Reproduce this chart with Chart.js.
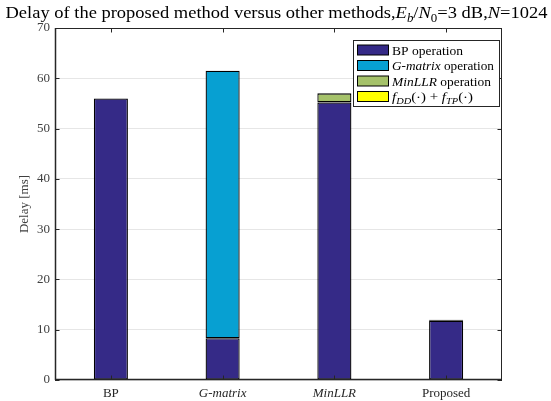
<!DOCTYPE html>
<html>
<head>
<meta charset="utf-8">
<script src="https://cdn.jsdelivr.net/npm/chart.js@4.4.1/dist/chart.umd.min.js"></script>
<style>
  html, body { margin: 0; padding: 0; background: #fff; }
  #wrap { width: 551px; height: 401px; }
</style>
</head>
<body>
<div id="wrap"><canvas id="c" width="551" height="401"></canvas></div>
<script>
// Stacked delay components per method (ms)
const categories = ['BP', 'G-matrix', 'MinLLR', 'Proposed'];
const bpOperation      = [56.0, 8.3, 55.2, 11.8];
const gMatrixOperation = [null, 53.2, null, null];
const minLLROperation  = [null, null, 1.8, null];
const fddTpOperation   = [null, null, null, 0.2];
const yTicks = [0, 10, 20, 30, 40, 50, 60, 70];

const SERIF = '"Liberation Serif", "DejaVu Serif", serif';
const AXIS = '#262626';
const colors = ['#352a87', '#07a0d2', '#a5c26a', '#ffff00'];
const italicCats = { 'G-matrix': true, 'MinLLR': true };

// Draw a run of text segments (normal / italic / subscript) on one baseline,
// optionally stretched horizontally to a given width
function drawRich(ctx, segs, x, y, size, align, fitWidth) {
  const parts = segs.map(s => {
    const fs = s.sub ? size * 0.7 : size;
    const font = (s.it ? 'italic ' : '') + fs + 'px ' + SERIF;
    ctx.font = font;
    return { t: s.t, font, w: ctx.measureText(s.t).width, dy: s.sub ? size * 0.25 : 0 };
  });
  const total = parts.reduce((a, p) => a + p.w, 0);
  const sx = fitWidth ? fitWidth / total : 1;
  const W = total * sx;
  let left = align === 'center' ? x - W / 2 : (align === 'right' ? x - W : x);
  ctx.save();
  ctx.translate(left, y);
  ctx.scale(sx, 1);
  ctx.textAlign = 'left';
  ctx.textBaseline = 'alphabetic';
  let cx = 0;
  parts.forEach(p => {
    ctx.font = p.font;
    ctx.fillText(p.t, cx, p.dy);
    cx += p.w;
  });
  ctx.restore();
  return W;
}

const titleSegs = [
  { t: 'Delay of the proposed method versus other methods,' },
  { t: 'E', it: true }, { t: 'b', it: true, sub: true },
  { t: '/' }, { t: 'N', it: true }, { t: '0', sub: true },
  { t: '=3 dB,' }, { t: 'N', it: true }, { t: '=1024' }
];

const legendRows = [
  [{ t: 'BP operation' }],
  [{ t: 'G-matrix', it: true }, { t: ' operation' }],
  [{ t: 'MinLLR', it: true }, { t: ' operation' }],
  [{ t: 'f', it: true }, { t: 'DD', it: true, sub: true }, { t: '(\u00b7) + ' },
   { t: 'f', it: true }, { t: 'TP', it: true, sub: true }, { t: '(\u00b7)' }]
];

const framePlugin = {
  id: 'frame',
  afterDatasetsDraw(chart) {
    const ctx = chart.ctx;
    const a = chart.chartArea;
    const xs = chart.scales.x, ys = chart.scales.y;
    ctx.save();
    ctx.strokeStyle = AXIS;
    ctx.lineWidth = 1;
    // box
    ctx.strokeRect(a.left + 0.5, a.top + 0.5, a.right - a.left - 1, a.bottom - a.top - 1);
    // inward ticks
    const tl = 4.5;
    ctx.beginPath();
    categories.forEach((c, i) => {
      const px = Math.round(xs.getPixelForValue(i)) + 0.5;
      ctx.moveTo(px, a.bottom); ctx.lineTo(px, a.bottom - tl);
      ctx.moveTo(px, a.top); ctx.lineTo(px, a.top + tl);
    });
    yTicks.forEach(v => {
      const py = Math.round(ys.getPixelForValue(v)) + 0.5;
      ctx.moveTo(a.left, py); ctx.lineTo(a.left + tl, py);
      ctx.moveTo(a.right, py); ctx.lineTo(a.right - tl, py);
    });
    ctx.stroke();
    // bottom axis a little heavier
    ctx.lineWidth = 1.5;
    ctx.beginPath();
    ctx.moveTo(a.left, a.bottom - 0.5); ctx.lineTo(a.right, a.bottom - 0.5);
    ctx.moveTo(a.left + 0.5, a.top); ctx.lineTo(a.left + 0.5, a.bottom);
    ctx.stroke();
    ctx.restore();
  },
  afterDraw(chart) {
    const ctx = chart.ctx;
    const a = chart.chartArea;
    ctx.save();
    // title
    ctx.fillStyle = '#000';
    drawRich(ctx, titleSegs, 276.5, 18, 16.5, 'center', 542);
    // legend
    const lx = a.right - 149, ly = a.top + 12, lw = 146, lh = 66;
    ctx.fillStyle = '#fff';
    ctx.fillRect(lx, ly, lw, lh);
    ctx.strokeStyle = AXIS;
    ctx.lineWidth = 1;
    ctx.strokeRect(lx + 0.5, ly + 0.5, lw, lh);
    const widths = [71, 102, 99, 81];
    legendRows.forEach((segs, i) => {
      const cy = ly + 10 + i * 15.5;
      ctx.fillStyle = colors[i];
      ctx.fillRect(lx + 4.5, cy - 5, 31, 10);
      ctx.strokeStyle = '#000';
      ctx.strokeRect(lx + 4.5, cy - 5, 31, 10);
      ctx.fillStyle = '#000';
      drawRich(ctx, segs, lx + 39, cy + 4.5, 13, 'left', widths[i]);
    });
    ctx.restore();
  }
};

const mk = (label, data, i) => ({
  label, data,
  backgroundColor: colors[i],
  borderColor: '#000',
  borderWidth: 1.3,
  borderSkipped: false,
  barPercentage: 0.305,
  categoryPercentage: 1.0
});

new Chart(document.getElementById('c'), {
  type: 'bar',
  data: {
    labels: categories,
    datasets: [
      mk('BP operation', bpOperation, 0),
      mk('G-matrix operation', gMatrixOperation, 1),
      mk('MinLLR operation', minLLROperation, 2),
      mk('fDD(·) + fTP(·)', fddTpOperation, 3)
    ]
  },
  options: {
    responsive: false,
    animation: false,
    layout: { padding: { top: 28, right: 49, left: 17, bottom: 0 } },
    plugins: { legend: { display: false }, title: { display: false }, tooltip: { enabled: false } },
    scales: {
      x: {
        stacked: true,
        grid: { display: false, drawTicks: false },
        border: { display: false },
        ticks: {
          color: '#262626',
          padding: 6,
          font: ctx => ({ family: SERIF, size: 13, style: italicCats[categories[ctx.index]] ? 'italic' : 'normal' })
        },
        afterFit(s) { s.height = 21; }
      },
      y: {
        stacked: true,
        min: 0, max: 70,
        afterBuildTicks(s) { s.ticks = yTicks.map(v => ({ value: v })); },
        grid: { color: '#e6e6e6', drawTicks: false, lineWidth: 1 },
        border: { display: false },
        ticks: { color: '#404040', padding: 5, font: { family: SERIF, size: 13 } },
        title: { display: true, text: 'Delay [ms]', color: '#404040', font: { family: SERIF, size: 13 }, padding: { top: 0, bottom: 0 } },
        afterFit(s) { s.width = 38; }
      }
    }
  },
  plugins: [framePlugin]
});
</script>
</body>
</html>
